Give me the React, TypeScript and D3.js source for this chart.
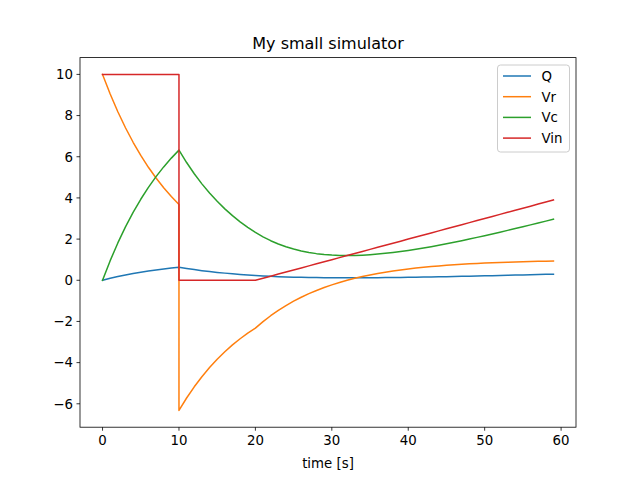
import React from "react";
import * as d3 from "d3";

// time points (duplicated at t=10 where the source switches)
const time: number[] = [
  0, 1, 2, 3, 4, 5, 6, 7, 8, 9, 10, 10,
  11, 12, 13, 14, 15, 16, 17, 18, 19, 20,
  21, 22, 23, 24, 25, 26, 27, 28, 29, 30,
  31, 32, 33, 34, 35, 36, 37, 38, 39, 40,
  41, 42, 43, 44, 45, 46, 47, 48, 49, 50,
  51, 52, 53, 54, 55, 56, 57, 58, 59,
];

const Vc: number[] = [
  0, 0.952, 1.813, 2.592, 3.297, 3.935, 4.512, 5.034, 5.507, 5.934, 6.321, 6.321,
  5.719, 5.175, 4.683, 4.237, 3.834, 3.469, 3.139, 2.84, 2.57, 2.325,
  2.108, 1.922, 1.763, 1.629, 1.517, 1.425, 1.351, 1.294, 1.252, 1.223,
  1.207, 1.201, 1.206, 1.22, 1.242, 1.271, 1.307, 1.35, 1.397, 1.45,
  1.507, 1.568, 1.633, 1.702, 1.773, 1.847, 1.923, 2.002, 2.083, 2.166,
  2.25, 2.336, 2.423, 2.511, 2.6, 2.691, 2.782, 2.874, 2.967,
];

const Vr: number[] = [
  10, 9.048, 8.187, 7.408, 6.703, 6.065, 5.488, 4.966, 4.493, 4.066, 3.679, -6.321,
  -5.719, -5.175, -4.683, -4.237, -3.834, -3.469, -3.139, -2.84, -2.57, -2.325,
  -2.008, -1.722, -1.463, -1.229, -1.017, -0.825, -0.651, -0.494, -0.352, -0.223,
  -0.107, -0.001, 0.094, 0.18, 0.258, 0.329, 0.393, 0.45, 0.503, 0.55,
  0.593, 0.632, 0.667, 0.698, 0.727, 0.753, 0.777, 0.798, 0.817, 0.834,
  0.85, 0.864, 0.877, 0.889, 0.9, 0.909, 0.918, 0.926, 0.933,
];

const Q: number[] = [
  0, 0.095, 0.181, 0.259, 0.33, 0.394, 0.451, 0.503, 0.551, 0.593, 0.632, 0.632,
  0.572, 0.518, 0.468, 0.424, 0.383, 0.347, 0.314, 0.284, 0.257, 0.233,
  0.211, 0.192, 0.176, 0.163, 0.152, 0.143, 0.135, 0.129, 0.125, 0.122,
  0.121, 0.12, 0.121, 0.122, 0.124, 0.127, 0.131, 0.135, 0.14, 0.145,
  0.151, 0.157, 0.163, 0.17, 0.177, 0.185, 0.192, 0.2, 0.208, 0.217,
  0.225, 0.234, 0.242, 0.251, 0.26, 0.269, 0.278, 0.287, 0.297,
];

const Vin: number[] = [
  10, 10, 10, 10, 10, 10, 10, 10, 10, 10, 10, 0,
  0, 0, 0, 0, 0, 0, 0, 0, 0, 0,
  0.1, 0.2, 0.3, 0.4, 0.5, 0.6, 0.7, 0.8, 0.9, 1.0,
  1.1, 1.2, 1.3, 1.4, 1.5, 1.6, 1.7, 1.8, 1.9, 2.0,
  2.1, 2.2, 2.3, 2.4, 2.5, 2.6, 2.7, 2.8, 2.9, 3.0,
  3.1, 3.2, 3.3, 3.4, 3.5, 3.6, 3.7, 3.8, 3.9,
];

const seriesNames: string[] = ["Q", "Vr", "Vc", "Vin"];
const seriesColors: string[] = ["#1f77b4", "#ff7f0e", "#2ca02c", "#d62728"];
const xTicks: number[] = [0, 10, 20, 30, 40, 50, 60];
const yTicks: number[] = [-6, -4, -2, 0, 2, 4, 6, 8, 10];
const title = "My small simulator";
const xLabel = "time [s]";

const W = 640;
const H = 480;
const left = 80;
const right = 576;
const top = 57.6;
const bottom = 427.2;
const font = "DejaVu Sans, sans-serif";

export default function App() {
  const allSeries = [Q, Vr, Vc, Vin];
  const xMin = d3.min(time)!;
  const xMax = d3.max(time)!;
  const yMin = d3.min(allSeries.flat())!;
  const yMax = d3.max(allSeries.flat())!;
  const xPad = (xMax - xMin) * 0.05;
  const yPad = (yMax - yMin) * 0.05;
  const x = d3.scaleLinear().domain([xMin - xPad, xMax + xPad]).range([left, right]);
  const y = d3.scaleLinear().domain([yMin - yPad, yMax + yPad]).range([bottom, top]);

  const line = (vals: number[]) =>
    d3
      .line<number>()
      .x((_, i) => x(time[i]))
      .y((d) => y(d))(vals) || "";

  const legX = 497.5;
  const legY = 65;
  const legW = 72;
  const legH = 87;

  return (
    <svg width={W} height={H} style={{ display: "block", position: "absolute", left: 0, top: 0 }}>
      <rect x={0} y={0} width={W} height={H} fill="#fff" />
      <defs>
        <clipPath id="plotclip">
          <rect x={left} y={top} width={right - left} height={bottom - top} />
        </clipPath>
      </defs>
      <g clipPath="url(#plotclip)">
        {allSeries.map((vals, k) => (
          <path
            key={k}
            d={line(vals)}
            fill="none"
            stroke={seriesColors[k]}
            strokeWidth={1.5}
            strokeLinejoin="round"
            strokeLinecap="square"
          />
        ))}
      </g>
      <rect x={left} y={top} width={right - left} height={bottom - top} fill="none" stroke="#000" strokeWidth={0.8} />
      {xTicks.map((t) => (
        <g key={"x" + t}>
          <line x1={x(t)} x2={x(t)} y1={bottom} y2={bottom + 3.5} stroke="#000" strokeWidth={0.8} />
          <text x={x(t)} y={bottom + 17.5} textAnchor="middle" fontFamily={font} fontSize={13.33} fill="#000">
            {t}
          </text>
        </g>
      ))}
      {yTicks.map((t) => (
        <g key={"y" + t}>
          <line x1={left - 3.5} x2={left} y1={y(t)} y2={y(t)} stroke="#000" strokeWidth={0.8} />
          <text x={left - 7} y={y(t) + 4.8} textAnchor="end" fontFamily={font} fontSize={13.33} fill="#000">
            {t < 0 ? "\u2212" + Math.abs(t) : t}
          </text>
        </g>
      ))}
      <text x={(left + right) / 2} y={468} textAnchor="middle" fontFamily={font} fontSize={13.33} fill="#000">
        {xLabel}
      </text>
      <text x={(left + right) / 2} y={49} textAnchor="middle" fontFamily={font} fontSize={16} fill="#000">
        {title}
      </text>
      <rect x={legX} y={legY} width={legW} height={legH} rx={3} fill="#fff" fillOpacity={0.8} stroke="#cccccc" strokeWidth={1} />
      {seriesNames.map((n, k) => (
        <g key={n}>
          <line
            x1={legX + 5.5}
            x2={legX + 33.5}
            y1={legY + 11 + k * 20.7}
            y2={legY + 11 + k * 20.7}
            stroke={seriesColors[k]}
            strokeWidth={1.5}
          />
          <text x={legX + 44} y={legY + 16 + k * 20.7} fontFamily={font} fontSize={13.33} fill="#000">
            {n}
          </text>
        </g>
      ))}
    </svg>
  );
}
